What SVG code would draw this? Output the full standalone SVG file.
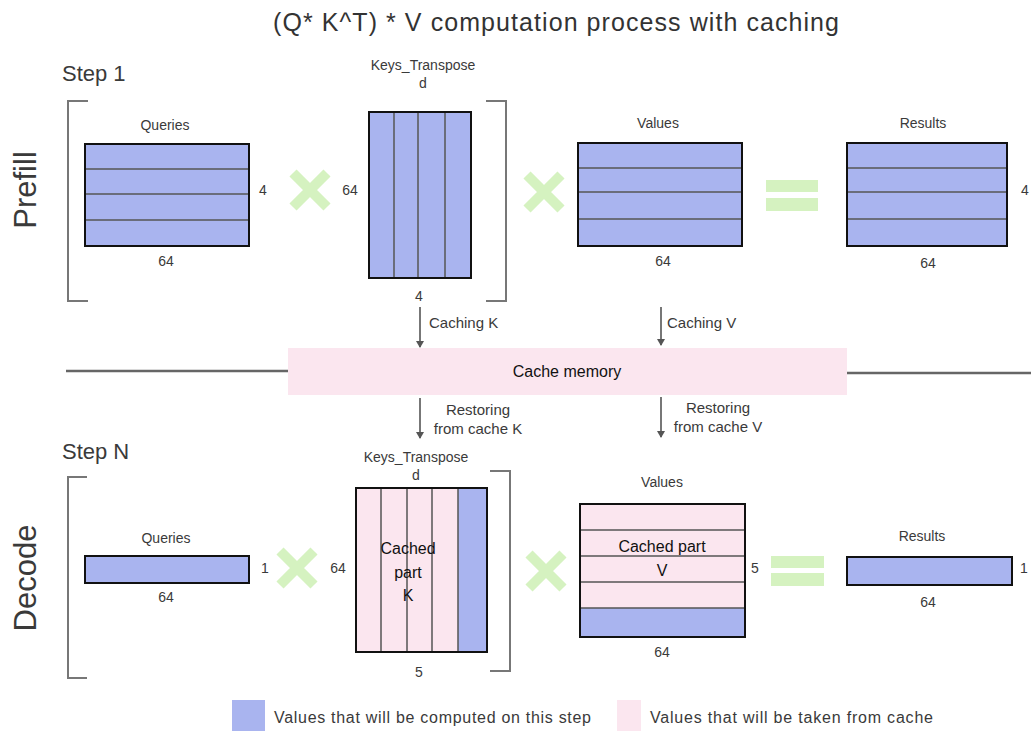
<svg xmlns="http://www.w3.org/2000/svg" width="1031" height="731" viewBox="0 0 1031 731">
<defs>
<style>
text{font-family:"Liberation Sans","DejaVu Sans",sans-serif;fill:#3a3a3a}
.title{font-size:25px;text-anchor:middle;fill:#333}
.step{font-size:22px}
.phase{font-size:31px;text-anchor:middle}
.lbl{font-size:14px;text-anchor:middle}
.dim{font-size:14px;text-anchor:middle}
.conn{font-size:15px}
.cache{font-size:16px;text-anchor:middle;fill:#111}
.leg{font-size:16px}
.big{font-size:16px;text-anchor:middle;fill:#111}
.blue{fill:#a9b4ef}
.pink{fill:#fbe6ef}
.frame{fill:none;stroke:#111;stroke-width:2}
.grid{stroke:#555;stroke-width:1.5;fill:none}
.brk{fill:none;stroke:#777;stroke-width:2}
.x{stroke:#d5f2c0;stroke-width:10;fill:none}
.eq{fill:#d5f2c0}
.arr{stroke:#555;stroke-width:1.6;fill:none;marker-end:url(#ah)}
.sep{stroke:#666;stroke-width:2.5}
</style>
<marker id="ah" markerWidth="8" markerHeight="8" refX="6" refY="4" orient="auto" markerUnits="userSpaceOnUse">
<path d="M0,0 L7,4 L0,8 Z" fill="#555"/>
</marker>
</defs>
<rect width="1031" height="731" fill="#fff"/>
<text class="title" x="556" y="31" textLength="566">(Q* K^T) * V computation process with caching</text>

<g id="prefill-labels">
<text class="step" x="62" y="81">Step 1</text>
<text class="phase" transform="translate(36,190) rotate(-90)">Prefill</text>
<path class="brk" d="M88,101 H68 V301 H88"/>
<path class="brk" d="M486,101 H506 V301 H486"/>
</g>

<g id="prefill-queries">
<text class="lbl" x="165" y="130">Queries</text>
<rect class="blue" x="85" y="144" width="164" height="102"/>
<path class="grid" d="M85,169 H249 M85,194 H249 M85,220 H249"/>
<rect class="frame" x="85" y="144" width="164" height="102"/>
<text class="dim" x="263" y="195">4</text>
<text class="dim" x="166" y="266">64</text>
</g>

<g id="prefill-x1"><path class="x" d="M293,173 L327,207 M327,173 L293,207"/></g>

<g id="prefill-keys">
<text class="lbl" x="423" y="70">Keys_Transpose</text>
<text class="lbl" x="423" y="88">d</text>
<rect class="blue" x="369" y="112" width="102" height="166"/>
<path class="grid" d="M394,112 V278 M418,112 V278 M445,112 V278"/>
<rect class="frame" x="369" y="112" width="102" height="166"/>
<text class="dim" x="350" y="195">64</text>
<text class="dim" x="419" y="301">4</text>
</g>

<g id="prefill-x2"><path class="x" d="M527,175 L561,209 M561,175 L527,209"/></g>

<g id="prefill-values">
<text class="lbl" x="658" y="128">Values</text>
<rect class="blue" x="578" y="143" width="164" height="103"/>
<path class="grid" d="M578,168 H742 M578,192 H742 M578,219 H742"/>
<rect class="frame" x="578" y="143" width="164" height="103"/>
<text class="dim" x="663" y="266">64</text>
</g>

<g id="prefill-eq">
<rect class="eq" x="766" y="180" width="52" height="12"/>
<rect class="eq" x="766" y="198" width="52" height="13"/>
</g>

<g id="prefill-results">
<text class="lbl" x="923" y="128">Results</text>
<rect class="blue" x="847" y="143" width="160" height="103"/>
<path class="grid" d="M847,168 H1007 M847,192 H1007 M847,219 H1007"/>
<rect class="frame" x="847" y="143" width="160" height="103"/>
<text class="dim" x="928" y="268">64</text>
<text class="dim" x="1025" y="195">4</text>
</g>

<g id="cache-memory">
<line class="sep" x1="66" y1="371" x2="288" y2="371"/>
<line class="sep" x1="847" y1="373" x2="1031" y2="373"/>
<rect class="pink" x="288" y="348" width="559" height="47"/>
<text class="cache" x="567" y="377">Cache memory</text>
</g>

<g id="connectors">
<line class="arr" x1="420" y1="307" x2="420" y2="347"/>
<line class="arr" x1="661" y1="307" x2="661" y2="345"/>
<line class="arr" x1="420" y1="398" x2="420" y2="438"/>
<line class="arr" x1="661" y1="397" x2="661" y2="437"/>
<text class="conn" x="429" y="328">Caching K</text>
<text class="conn" x="667" y="328">Caching V</text>
<text class="conn" x="478" y="415" text-anchor="middle">Restoring</text>
<text class="conn" x="478" y="434" text-anchor="middle">from cache K</text>
<text class="conn" x="718" y="413" text-anchor="middle">Restoring</text>
<text class="conn" x="718" y="432" text-anchor="middle">from cache V</text>
</g>

<g id="decode-labels">
<text class="step" x="62" y="459">Step N</text>
<text class="phase" transform="translate(36,578) rotate(-90)">Decode</text>
<path class="brk" d="M87,477 H68 V678 H87"/>
<path class="brk" d="M490,471 H510 V671 H490"/>
</g>

<g id="decode-queries">
<text class="lbl" x="166" y="543">Queries</text>
<rect class="blue" x="85" y="556" width="164" height="27"/>
<rect class="frame" x="85" y="556" width="164" height="27"/>
<text class="dim" x="265" y="573">1</text>
<text class="dim" x="166" y="602">64</text>
</g>

<g id="decode-x1"><path class="x" d="M280,551 L314,585 M314,551 L280,585"/></g>

<g id="decode-keys">
<text class="lbl" x="416" y="462">Keys_Transpose</text>
<text class="lbl" x="416" y="480">d</text>
<rect class="pink" x="356" y="488" width="102" height="164"/>
<rect class="blue" x="458" y="488" width="29" height="164"/>
<path class="grid" d="M381,488 V652 M407,488 V652 M432,488 V652 M458,488 V652"/>
<rect class="frame" x="356" y="488" width="131" height="164"/>
<text class="big" x="408" y="554">Cached</text>
<text class="big" x="408" y="578">part</text>
<text class="big" x="408" y="601">K</text>
<text class="dim" x="338" y="573">64</text>
<text class="dim" x="419" y="677">5</text>
</g>

<g id="decode-x2"><path class="x" d="M529,554 L563,588 M563,554 L529,588"/></g>

<g id="decode-values">
<text class="lbl" x="662" y="487">Values</text>
<rect class="pink" x="580" y="504" width="165" height="104"/>
<rect class="blue" x="580" y="608" width="165" height="29"/>
<path class="grid" d="M580,530 H745 M580,556 H745 M580,582 H745 M580,608 H745"/>
<rect class="frame" x="580" y="504" width="165" height="133"/>
<text class="big" x="662" y="552">Cached part</text>
<text class="big" x="662" y="576">V</text>
<text class="dim" x="755" y="573">5</text>
<text class="dim" x="662" y="657">64</text>
</g>

<g id="decode-eq">
<rect class="eq" x="771" y="556" width="53" height="12"/>
<rect class="eq" x="771" y="573" width="53" height="13"/>
</g>

<g id="decode-results">
<text class="lbl" x="922" y="541">Results</text>
<rect class="blue" x="847" y="557" width="165" height="28"/>
<rect class="frame" x="847" y="557" width="165" height="28"/>
<text class="dim" x="1024" y="573">1</text>
<text class="dim" x="928" y="607">64</text>
</g>

<g id="legend">
<rect class="blue" x="232" y="700" width="33" height="31"/>
<text class="leg" x="274" y="723" textLength="317">Values that will be computed on this step</text>
<rect class="pink" x="617" y="700" width="24" height="31"/>
<text class="leg" x="650" y="723" textLength="283">Values that will be taken from cache</text>
</g>
</svg>
